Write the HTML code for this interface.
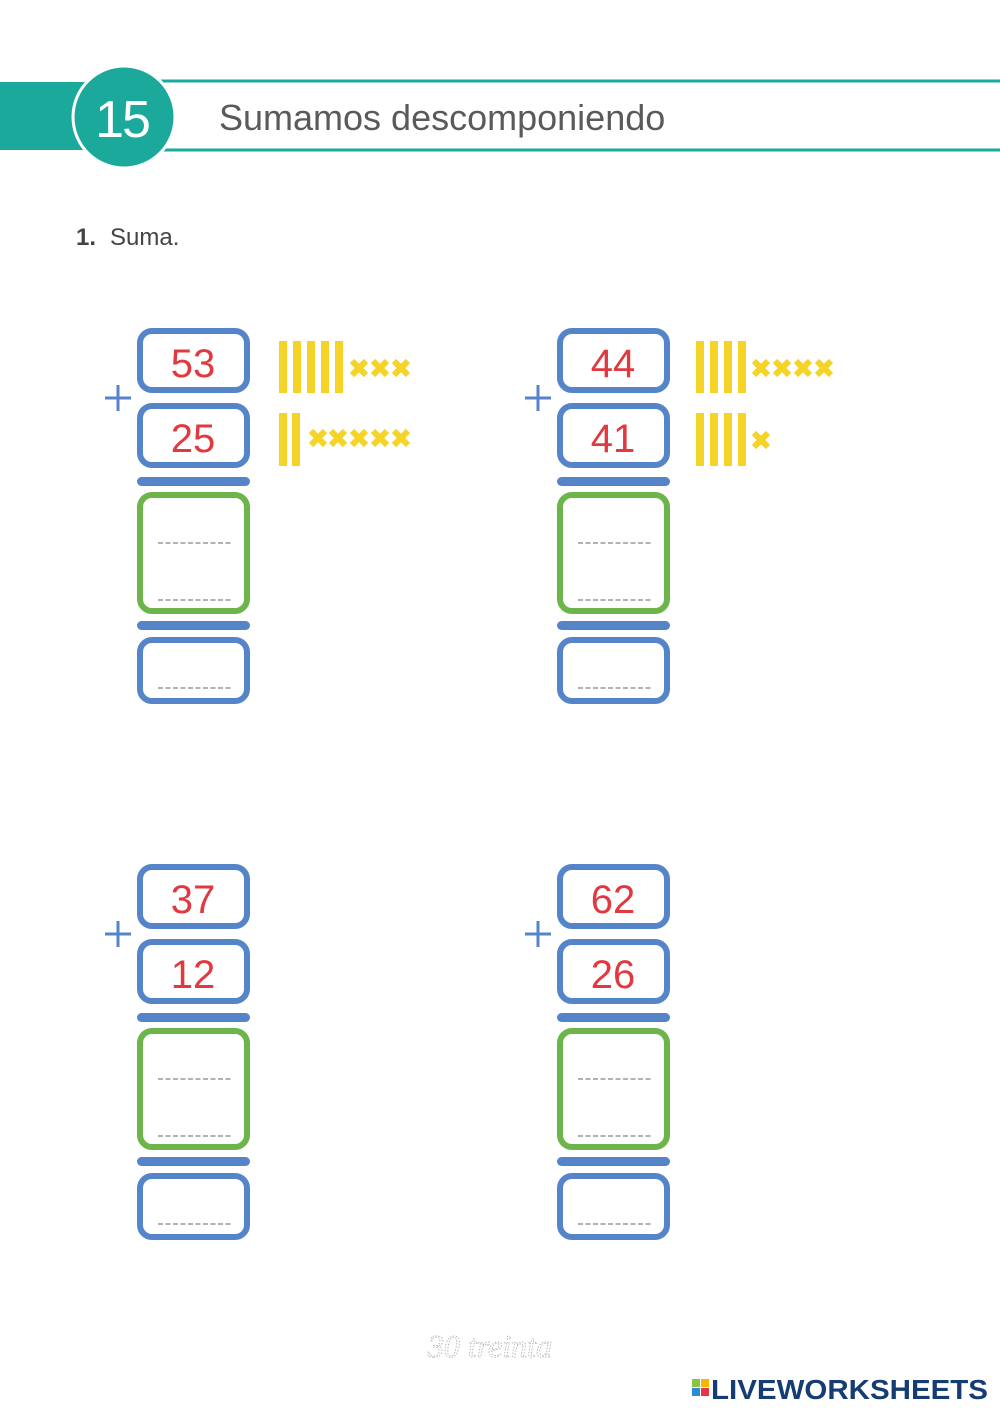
<!DOCTYPE html>
<html><head><meta charset="utf-8"><style>
html,body{margin:0;padding:0;background:#fff;}
svg{display:block;}
</style></head><body>
<svg width="1000" height="1414" viewBox="0 0 1000 1414" xmlns="http://www.w3.org/2000/svg">
<defs>
<g id="blk">
  <rect x="3" y="3" width="107" height="59" rx="12" fill="#fff" stroke="#5585c8" stroke-width="6"/>
  <rect x="3" y="78" width="107" height="59" rx="12" fill="#fff" stroke="#5585c8" stroke-width="6"/>
  <rect x="0" y="149" width="113" height="9" rx="4.5" fill="#5585c8"/>
  <rect x="3" y="167" width="107" height="116" rx="12" fill="#fff" stroke="#6bb54b" stroke-width="6"/>
  <rect x="0" y="293" width="113" height="9" rx="4.5" fill="#5585c8"/>
  <rect x="3" y="312" width="107" height="61" rx="12" fill="#fff" stroke="#5585c8" stroke-width="6"/>
  <g stroke="#999" stroke-width="1.5" stroke-dasharray="5,2.5">
    <line x1="21" y1="215" x2="96" y2="215"/>
    <line x1="21" y1="272" x2="96" y2="272"/>
    <line x1="21" y1="360" x2="96" y2="360"/>
  </g>
  <g stroke="#5585c8" stroke-width="3">
    <line x1="-32" y1="70" x2="-6" y2="70"/>
    <line x1="-19" y1="57" x2="-19" y2="83"/>
  </g>
</g>
<g id="x"><path d="M-7,-7L7,7M7,-7L-7,7" stroke="#f5d327" stroke-width="6"/></g>
</defs>

<rect x="0" y="82" width="100" height="68" fill="#1aa99a"/>
<line x1="150" y1="81" x2="1000" y2="81" stroke="#1aa99a" stroke-width="3"/>
<line x1="150" y1="150" x2="1000" y2="150" stroke="#1aa99a" stroke-width="3"/>
<circle cx="124" cy="117" r="51" fill="#1aa99a" stroke="#fff" stroke-width="3"/>
<text x="122" y="137" font-family="Liberation Sans, sans-serif" font-size="52" fill="#fff" text-anchor="middle" letter-spacing="-2">15</text>
<text x="219" y="130" font-family="Liberation Sans, sans-serif" font-size="36" fill="#5a5a5a">Sumamos descomponiendo</text>
<text x="76" y="245" font-family="Liberation Sans, sans-serif" font-size="24" fill="#444" font-weight="bold">1.</text>
<text x="110" y="245" font-family="Liberation Sans, sans-serif" font-size="24" fill="#444">Suma.</text>

<use href="#blk" x="137" y="328"/>
<use href="#blk" x="557" y="328"/>
<use href="#blk" x="137" y="864"/>
<use href="#blk" x="557" y="864"/>

<g font-family="Liberation Sans, sans-serif" font-size="40" fill="#e0393f" text-anchor="middle">
<text x="193" y="377">53</text><text x="193" y="452">25</text>
<text x="613" y="377">44</text><text x="613" y="452">41</text>
<text x="193" y="913">37</text><text x="193" y="988">12</text>
<text x="613" y="913">62</text><text x="613" y="988">26</text>
</g>

<g fill="#f5d327">
<rect x="279" y="341" width="8" height="52"/><rect x="293" y="341" width="8" height="52"/><rect x="307" y="341" width="8" height="52"/><rect x="321" y="341" width="8" height="52"/><rect x="335" y="341" width="8" height="52"/>
<rect x="279" y="413" width="8" height="53"/><rect x="292" y="413" width="8" height="53"/>
<rect x="696" y="341" width="8" height="52"/><rect x="710" y="341" width="8" height="52"/><rect x="724" y="341" width="8" height="52"/><rect x="738" y="341" width="8" height="52"/>
<rect x="696" y="413" width="8" height="53"/><rect x="710" y="413" width="8" height="53"/><rect x="724" y="413" width="8" height="53"/><rect x="738" y="413" width="8" height="53"/>
</g>
<use href="#x" x="359" y="368"/><use href="#x" x="380" y="368"/><use href="#x" x="401" y="368"/>
<use href="#x" x="318" y="438"/><use href="#x" x="338" y="438"/><use href="#x" x="359" y="438"/><use href="#x" x="380" y="438"/><use href="#x" x="401" y="438"/>
<use href="#x" x="761" y="368"/><use href="#x" x="782" y="368"/><use href="#x" x="803" y="368"/><use href="#x" x="824" y="368"/>
<use href="#x" x="761" y="440"/>

<text x="490" y="1357" font-family="Liberation Serif, serif" font-style="italic" font-size="32" fill="#fff" stroke="#bbb" stroke-width="1" stroke-dasharray="1.5,1.5" text-anchor="middle">30 treinta</text>
<rect x="692" y="1379" width="8" height="8" fill="#8bc53f"/><rect x="701" y="1379" width="8" height="8" fill="#f7b500"/>
<rect x="692" y="1388" width="8" height="8" fill="#2d8ad8"/><rect x="701" y="1388" width="8" height="8" fill="#e8334a"/>
<text x="711" y="1399" font-family="Liberation Sans, sans-serif" font-weight="bold" font-size="28" fill="#163d73" textLength="277" lengthAdjust="spacingAndGlyphs">LIVEWORKSHEETS</text>
</svg>
</body></html>
